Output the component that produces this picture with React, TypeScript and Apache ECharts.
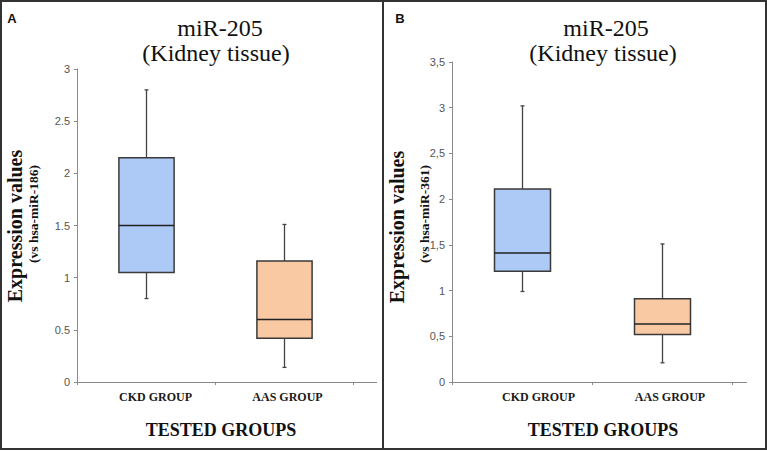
import React, { useEffect, useRef } from "react";
import * as echarts from "echarts";

const categories = ["CKD GROUP", "AAS GROUP"];
// [min, q1, median, q3, max]
const boxA = [
  [0.8, 1.05, 1.5, 2.15, 2.8],
  [0.14, 0.42, 0.6, 1.16, 1.51],
];
const boxB = [
  [0.99, 1.21, 1.41, 2.11, 3.02],
  [0.21, 0.52, 0.635, 0.91, 1.51],
];
const yMaxA = 3;
const yMaxB = 3.5;
const yInterval = 0.5;
const boxColors = ["#adc9f5", "#f8c9a2"];
const titleLine1 = "miR-205";
const titleLine2 = "(Kidney tissue)";
const yNameMain = "Expression values";
const yNameSubA = "(vs hsa-miR-186)";
const yNameSubB = "(vs hsa-miR-361)";
const xName = "TESTED GROUPS";

const SERIF = "Liberation Serif";
const SANS = "Liberation Sans";

function renderBox(params: any, api: any) {
  const idx = api.value(0);
  const pMin = api.coord([idx, api.value(1)]);
  const pQ1 = api.coord([idx, api.value(2)]);
  const pMed = api.coord([idx, api.value(3)]);
  const pQ3 = api.coord([idx, api.value(4)]);
  const pMax = api.coord([idx, api.value(5)]);
  const xc = Math.round(pMin[0]) + 0.5;
  const hw = api.size([1, 0])[0] * 0.2;
  const wStyle = { stroke: "#444", lineWidth: 1.3 };
  const cap = 2;
  return {
    type: "group",
    children: [
      { type: "line", shape: { x1: xc, y1: pQ3[1], x2: xc, y2: pMax[1] }, style: wStyle },
      { type: "line", shape: { x1: xc - cap, y1: pMax[1], x2: xc + cap, y2: pMax[1] }, style: wStyle },
      { type: "line", shape: { x1: xc, y1: pQ1[1], x2: xc, y2: pMin[1] }, style: wStyle },
      { type: "line", shape: { x1: xc - cap, y1: pMin[1], x2: xc + cap, y2: pMin[1] }, style: wStyle },
      {
        type: "rect",
        shape: { x: xc - hw, y: pQ3[1], width: hw * 2, height: pQ1[1] - pQ3[1] },
        style: { fill: boxColors[params.dataIndex], stroke: "#3a3a3a", lineWidth: 1.5 },
      },
      { type: "line", shape: { x1: xc - hw, y1: pMed[1], x2: xc + hw, y2: pMed[1] }, style: { stroke: "#222", lineWidth: 1.5 } },
    ],
  };
}

function toData(box: number[][]) {
  return box.map((b, i) => [i, ...b]);
}

export default function App() {
  const ref = useRef<HTMLDivElement>(null);
  useEffect(() => {
    if (!ref.current) return;
    const chart = echarts.init(ref.current, null, { renderer: "svg" });
    const axisGray = "#8a8a8a";
    const mkX = (gi: number, pads: number[]) => ({
      type: "category",
      gridIndex: gi,
      data: categories,
      boundaryGap: true,
      axisLine: { lineStyle: { color: axisGray, width: 1 } },
      axisTick: { show: true, length: 3, alignWithLabel: false, lineStyle: { color: axisGray } },
      axisLabel: {
        margin: 9,
        interval: 0,
        formatter: (v: string, i: number) => `{c${i}|${v}}`,
        rich: {
          c0: { fontFamily: SERIF, fontWeight: "bold", fontSize: 12, color: "#1a1a1a", padding: [0, 0, 0, pads[0]] },
          c1: { fontFamily: SERIF, fontWeight: "bold", fontSize: 12, color: "#1a1a1a", padding: [0, 0, 0, pads[1]] },
        },
      },
      splitLine: { show: false },
    });
    const mkY = (gi: number, max: number, comma: boolean) => ({
      type: "value",
      gridIndex: gi,
      min: 0,
      max,
      interval: yInterval,
      axisLine: { show: true, lineStyle: { color: axisGray, width: 1 } },
      axisTick: { show: true, length: 3, lineStyle: { color: axisGray } },
      axisLabel: {
        margin: 7,
        fontFamily: SANS,
        fontSize: 11,
        color: "#555",
        formatter: (v: number) => {
          const s = String(v);
          return comma ? s.replace(".", ",") : s;
        },
      },
      splitLine: { show: false },
    });
    const t = (
      x: number,
      y: number,
      text: string,
      family: string,
      size: number,
      weight: string,
      extra: any = {}
    ) => ({
      type: "text",
      x,
      y,
      ...extra,
      style: {
        text,
        fontFamily: family,
        fontSize: size,
        fontWeight: weight,
        fill: "#111",
        align: "center",
        verticalAlign: "middle",
      },
    });
    const rot = { rotation: Math.PI / 2 };
    chart.setOption({
      animation: false,
      backgroundColor: "#fff",
      grid: [
        { left: 77, top: 69, width: 276, height: 313 },
        { left: 452, top: 62, width: 280, height: 320 },
      ],
      xAxis: [mkX(0, [19, 7]), mkX(1, [33, 16])],
      yAxis: [mkY(0, yMaxA, false), mkY(1, yMaxB, true)],
      series: [
        {
          type: "custom",
          xAxisIndex: 0,
          yAxisIndex: 0,
          renderItem: renderBox,
          encode: { x: 0, y: [1, 2, 3, 4, 5] },
          data: toData(boxA),
        },
        {
          type: "custom",
          xAxisIndex: 1,
          yAxisIndex: 1,
          renderItem: renderBox,
          encode: { x: 0, y: [1, 2, 3, 4, 5] },
          data: toData(boxB),
        },
      ],
      graphic: [
        { type: "rect", shape: { x: 1, y: 1, width: 382, height: 448 }, style: { fill: "none", stroke: "#333", lineWidth: 2 } },
        { type: "rect", shape: { x: 383, y: 1, width: 383, height: 448 }, style: { fill: "none", stroke: "#333", lineWidth: 2 } },
        { type: "line", shape: { x1: 353, y1: 382.5, x2: 377, y2: 382.5 }, style: { stroke: axisGray, lineWidth: 1 } },
        { type: "line", shape: { x1: 732, y1: 382.5, x2: 747, y2: 382.5 }, style: { stroke: axisGray, lineWidth: 1 } },
        t(12, 18, "A", SANS, 13, "bold"),
        t(400, 18, "B", SANS, 13, "bold"),
        t(220, 28, titleLine1, SERIF, 24, "normal"),
        t(216, 53, titleLine2, SERIF, 24, "normal"),
        t(606, 28, titleLine1, SERIF, 24, "normal"),
        t(603, 53, titleLine2, SERIF, 24, "normal"),
        t(15, 226, yNameMain, SERIF, 20, "bold", rot),
        t(33, 214, yNameSubA, SERIF, 13.5, "bold", rot),
        t(397, 227, yNameMain, SERIF, 20, "bold", rot),
        t(424, 214, yNameSubB, SERIF, 13.5, "bold", rot),
        t(221, 430, xName, SERIF, 18, "bold"),
        t(603, 430, xName, SERIF, 18, "bold"),
      ],
    });
    return () => chart.dispose();
  }, []);
  return (
    <div
      ref={ref}
      style={{ position: "fixed", left: 0, top: 0, width: 767, height: 451 }}
    />
  );
}
